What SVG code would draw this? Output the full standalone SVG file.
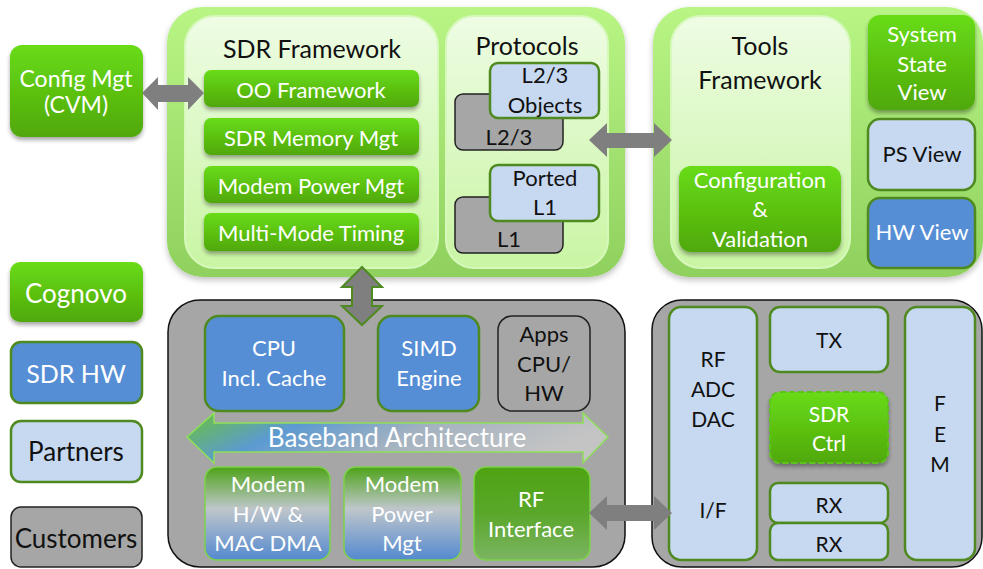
<svg xmlns="http://www.w3.org/2000/svg" width="983" height="569" viewBox="0 0 983 569">
  <defs>
    <linearGradient id="gOuter" x1="0" y1="0" x2="0" y2="1">
      <stop offset="0" stop-color="#b8f585"/>
      <stop offset="1" stop-color="#8fd05e"/>
    </linearGradient>
    <linearGradient id="gInner" x1="0" y1="0" x2="0" y2="1">
      <stop offset="0" stop-color="#eefce4"/>
      <stop offset="1" stop-color="#c9f5a3"/>
    </linearGradient>
    <linearGradient id="gGreen" x1="0" y1="0" x2="0" y2="1">
      <stop offset="0" stop-color="#68dc14"/>
      <stop offset="1" stop-color="#50a80e"/>
    </linearGradient>
    <linearGradient id="gModem" x1="0" y1="0" x2="0" y2="1">
      <stop offset="0" stop-color="#4ea319"/>
      <stop offset="0.45" stop-color="#bfc6cb"/>
      <stop offset="1" stop-color="#5389cf"/>
    </linearGradient>
    <linearGradient id="gRfIf" x1="0" y1="0" x2="0" y2="1">
      <stop offset="0" stop-color="#4ea412"/>
      <stop offset="0.5" stop-color="#5aa72a"/>
      <stop offset="1" stop-color="#7cb463"/>
    </linearGradient>
    <linearGradient id="gBand" x1="0" y1="0" x2="1" y2="0.25">
      <stop offset="0" stop-color="#6cc23a"/>
      <stop offset="0.3" stop-color="#5b9ad2"/>
      <stop offset="0.6" stop-color="#a4b2c0"/>
      <stop offset="1" stop-color="#c4c4c4"/>
    </linearGradient>
    <filter id="shadow" x="-10%" y="-10%" width="120%" height="130%">
      <feGaussianBlur in="SourceAlpha" stdDeviation="2"/>
      <feOffset dy="3"/>
      <feComponentTransfer><feFuncA type="linear" slope="0.35"/></feComponentTransfer>
      <feMerge><feMergeNode/><feMergeNode in="SourceGraphic"/></feMerge>
    </filter>
    <filter id="soft" x="-5%" y="-5%" width="110%" height="110%">
      <feGaussianBlur in="SourceAlpha" stdDeviation="3"/>
      <feOffset dy="3"/>
      <feComponentTransfer><feFuncA type="linear" slope="0.25"/></feComponentTransfer>
      <feMerge><feMergeNode/><feMergeNode in="SourceGraphic"/></feMerge>
    </filter>
  </defs>
  <style>
    text { font-family: Lato, "Liberation Sans", sans-serif; text-anchor: middle; }
    .w { fill: #ffffff; }
    .k { fill: #111111; }
    .t26 { font-size: 26px; }
    .t25 { font-size: 25px; }
    .t23 { font-size: 23px; }
    .t22 { font-size: 22px; }
    .t21 { font-size: 21px; }
    .outer { fill: url(#gOuter); filter: url(#soft); }
    .inner { fill: url(#gInner); stroke: #d6f8bb; stroke-width: 2; }
    .green { fill: url(#gGreen); filter: url(#shadow); }
    .blue { fill: #558ed5; stroke: #4e8a1f; stroke-width: 2.5; }
    .light { fill: #c6d9f1; stroke: #4e8a1f; stroke-width: 2.5; }
    .gray { fill: #a6a6a6; stroke: #222222; stroke-width: 1.5; }
    .panel { fill: #a6a6a6; stroke: #111111; stroke-width: 1.5; }
    .modem { fill: url(#gModem); stroke: #7ed24a; stroke-width: 1.5; }
    .arrow { fill: #7f7f7f; }
  </style>

  <!-- legend -->
  <g id="config-mgt">
    <rect class="green" x="10" y="45" width="133" height="92" rx="12"/>
    <text class="w t23" x="76" y="87">Config Mgt</text>
    <text class="w t23" x="76" y="113">(CVM)</text>
  </g>
  <g id="legend-cognovo">
    <rect class="green" x="10" y="262" width="133" height="60" rx="10"/>
    <text class="w t26" x="76" y="303">Cognovo</text>
  </g>
  <g id="legend-sdr-hw">
    <rect class="blue" x="11" y="342" width="131" height="61" rx="10"/>
    <text class="w t25" x="76" y="383">SDR HW</text>
  </g>
  <g id="legend-partners">
    <rect class="light" x="11" y="421" width="131" height="61" rx="10"/>
    <text class="k t26" x="76" y="461">Partners</text>
  </g>
  <g id="legend-customers">
    <rect class="gray" x="11" y="507" width="131" height="60" rx="10"/>
    <text class="k t26" x="76" y="548">Customers</text>
  </g>

  <!-- software stack panel -->
  <g id="software-panel">
    <rect class="outer" x="167" y="7" width="458" height="270" rx="36"/>
  </g>
  <g id="sdr-framework">
    <rect class="inner" x="185" y="16" width="253" height="252" rx="30"/>
    <text class="k t25" x="312" y="58">SDR Framework</text>
  </g>
  <g id="oo-framework">
    <rect class="green" x="204" y="70" width="215" height="37" rx="7"/>
    <text class="w t22" x="311" y="98">OO Framework</text>
  </g>
  <g id="sdr-memory-mgt">
    <rect class="green" x="204" y="118" width="215" height="37" rx="7"/>
    <text class="w t22" x="311" y="146">SDR Memory Mgt</text>
  </g>
  <g id="modem-power-mgt">
    <rect class="green" x="204" y="166" width="215" height="37" rx="7"/>
    <text class="w t22" x="311" y="194">Modem Power Mgt</text>
  </g>
  <g id="multi-mode-timing">
    <rect class="green" x="204" y="213" width="215" height="38" rx="7"/>
    <text class="w t22" x="311" y="241">Multi-Mode Timing</text>
  </g>
  <g id="protocols">
    <rect class="inner" x="446" y="16" width="162" height="252" rx="28"/>
    <text class="k t25" x="527" y="55">Protocols</text>
  </g>
  <g id="l23">
    <rect class="gray" x="455" y="94" width="108" height="56" rx="8"/>
    <text class="k t22" x="509" y="145">L2/3</text>
  </g>
  <g id="l23-objects">
    <rect class="light" x="490" y="63" width="109" height="55" rx="8"/>
    <text class="k t22" x="545" y="83">L2/3</text>
    <text class="k t22" x="545" y="113">Objects</text>
  </g>
  <g id="l1">
    <rect class="gray" x="455" y="197" width="108" height="56" rx="8"/>
    <text class="k t22" x="509" y="247">L1</text>
  </g>
  <g id="ported-l1">
    <rect class="light" x="490" y="165" width="109" height="56" rx="8"/>
    <text class="k t22" x="545" y="186">Ported</text>
    <text class="k t22" x="545" y="215">L1</text>
  </g>

  <!-- tools panel -->
  <g id="tools-panel">
    <rect class="outer" x="653" y="7" width="330" height="270" rx="36"/>
  </g>
  <g id="tools-framework">
    <rect class="inner" x="671" y="16" width="179" height="252" rx="30"/>
    <text class="k t25" x="760" y="55">Tools</text>
    <text class="k t25" x="760" y="89">Framework</text>
  </g>
  <g id="config-validation">
    <rect class="green" x="679" y="166" width="162" height="86" rx="12"/>
    <text class="w t22" x="760" y="188">Configuration</text>
    <text class="w t22" x="760" y="217">&amp;</text>
    <text class="w t22" x="760" y="247">Validation</text>
  </g>
  <g id="system-state-view">
    <rect class="green" x="868" y="15" width="107" height="95" rx="12"/>
    <text class="w t22" x="922" y="42">System</text>
    <text class="w t22" x="922" y="72">State</text>
    <text class="w t22" x="922" y="100">View</text>
  </g>
  <g id="ps-view">
    <rect class="light" x="868" y="119" width="107" height="71" rx="12"/>
    <text class="k t22" x="922" y="162">PS View</text>
  </g>
  <g id="hw-view">
    <rect class="blue" x="868" y="198" width="107" height="70" rx="12"/>
    <text class="w t22" x="922" y="240">HW View</text>
  </g>

  <!-- baseband panel -->
  <g id="baseband-panel">
    <rect class="panel" x="168" y="300" width="457" height="267" rx="32"/>
  </g>
  <g id="cpu">
    <rect class="blue" x="205" y="316" width="139" height="95" rx="14"/>
    <text class="w t22" x="274" y="356">CPU</text>
    <text class="w t22" x="274" y="386">Incl. Cache</text>
  </g>
  <g id="simd-engine">
    <rect class="blue" x="378" y="316" width="101" height="95" rx="14"/>
    <text class="w t22" x="429" y="356">SIMD</text>
    <text class="w t22" x="429" y="386">Engine</text>
  </g>
  <g id="apps-cpu-hw">
    <rect class="gray" x="498" y="316" width="92" height="95" rx="14"/>
    <text class="k t22" x="544" y="342">Apps</text>
    <text class="k t22" x="544" y="372">CPU/</text>
    <text class="k t22" x="544" y="401">HW</text>
  </g>
  <g id="baseband-architecture">
    <path d="M187,437 L214,413 L214,423 L583,423 L583,413 L608,437 L583,463 L583,452 L214,452 L214,463 Z" fill="url(#gBand)" stroke="#8ee05a" stroke-width="1.5"/>
    <text class="w t26" x="397" y="447">Baseband Architecture</text>
  </g>
  <g id="modem-hw-mac-dma">
    <rect class="modem" x="205" y="467" width="125" height="93" rx="12"/>
    <text class="w t22" x="268" y="492">Modem</text>
    <text class="w t22" x="268" y="522">H/W &amp;</text>
    <text class="w t22" x="268" y="551">MAC DMA</text>
  </g>
  <g id="modem-power">
    <rect class="modem" x="344" y="467" width="117" height="93" rx="12"/>
    <text class="w t22" x="402" y="492">Modem</text>
    <text class="w t22" x="402" y="522">Power</text>
    <text class="w t22" x="402" y="551">Mgt</text>
  </g>
  <g id="rf-interface">
    <rect x="474" y="467" width="116" height="93" rx="12" fill="url(#gRfIf)" stroke="#7ed24a" stroke-width="1.5"/>
    <text class="w t22" x="531" y="507">RF</text>
    <text class="w t22" x="531" y="537">Interface</text>
  </g>

  <!-- RF panel -->
  <g id="rf-panel">
    <rect class="panel" x="652" y="300" width="330" height="267" rx="30"/>
  </g>
  <g id="rf-adc-dac">
    <rect class="light" x="669" y="307" width="88" height="253" rx="12"/>
    <text class="k t21" x="713" y="367">RF</text>
    <text class="k t21" x="713" y="397">ADC</text>
    <text class="k t21" x="713" y="427">DAC</text>
    <text class="k t21" x="713" y="518">I/F</text>
  </g>
  <g id="tx">
    <rect class="light" x="770" y="307" width="118" height="65" rx="10"/>
    <text class="k t21" x="829" y="348">TX</text>
  </g>
  <g id="sdr-ctrl">
    <rect x="770" y="392" width="118" height="71" rx="10" fill="url(#gGreen)" stroke="#5cc41c" stroke-width="2" stroke-dasharray="6 3" filter="url(#shadow)"/>
    <text class="w t21" x="829" y="422">SDR</text>
    <text class="w t21" x="829" y="451">Ctrl</text>
  </g>
  <g id="rx-1">
    <rect class="light" x="770" y="483" width="118" height="40" rx="8"/>
    <text class="k t21" x="829" y="513">RX</text>
  </g>
  <g id="rx-2">
    <rect class="light" x="770" y="523" width="118" height="37" rx="8"/>
    <text class="k t21" x="829" y="552">RX</text>
  </g>
  <g id="fem">
    <rect class="light" x="905" y="307" width="70" height="253" rx="12"/>
    <text class="k t21" x="940" y="411">F</text>
    <text class="k t21" x="940" y="442">E</text>
    <text class="k t21" x="940" y="472">M</text>
  </g>

  <!-- connectors -->
  <g id="connectors">
    <path class="arrow" d="M142,93 L158,77 L158,85 L188,85 L188,77 L204,93 L188,110 L188,102 L158,102 L158,110 Z"/>
    <path class="arrow" d="M589,140 L607,123 L607,133 L654,133 L654,123 L672,140 L654,157 L654,148 L607,148 L607,157 Z"/>
    <path class="arrow" d="M589,513 L607,496 L607,505 L654,505 L654,496 L672,513 L654,530 L654,521 L607,521 L607,530 Z"/>
    <path class="arrow" d="M362,267 L382,287 L372,287 L372,306 L382,306 L362,325 L342,306 L352,306 L352,287 L342,287 Z" stroke="#4e8a1f" stroke-width="2" stroke-linejoin="miter"/>
  </g>
</svg>
